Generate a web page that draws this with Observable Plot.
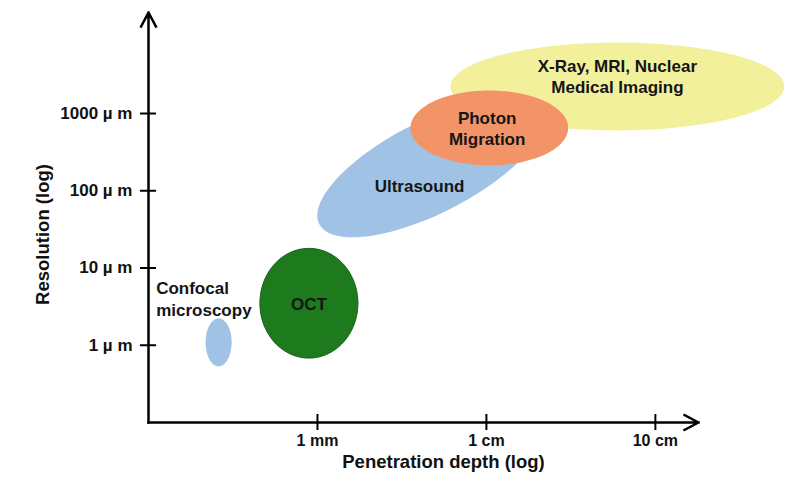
<!DOCTYPE html>
<html><head><meta charset="utf-8">
<script src="https://cdn.jsdelivr.net/npm/d3@7"></script>
<script src="https://cdn.jsdelivr.net/npm/@observablehq/plot@0.6"></script>
<style>body{margin:0;background:#fff} svg{display:block}</style>
</head><body><div id="chart"></div>
<script>
// Axis ticks
const xTicks = [1, 10, 100]; // penetration depth, mm
const xTickLabels = ["1 mm", "1 cm", "10 cm"];
const yTicks = [1, 10, 100, 1000]; // resolution, µm
const yTickLabels = ["1 µ m", "10 µ m", "100 µ m", "1000 µ m"];
const xDomain = [0.1, 180];
const yDomain = [0.1, 20300];

// Imaging techniques (regions in log-log space)
const techniques = ["Confocal microscopy", "OCT", "Ultrasound", "X-Ray, MRI, Nuclear Medical Imaging", "Photon Migration"];
const depthCenter = [0.26, 0.89, 4.67, 59.6, 10.4];   // mm
const resCenter   = [1.09, 3.5, 201, 2240, 651];      // µm
// semi-axes in decades (log10 units)
const majorX = [0.077, 0.29, 0.659, 0.988, 0.467];
const majorY = [0, 0, 0.734, 0, 0];
const minorX = [0, 0, -0.124, 0, 0];
const minorY = [0.31, 0.71, 0.530, 0.569, 0.485];

const labelText  = ["Confocal\nmicroscopy", "OCT", "Ultrasound", "X-Ray, MRI, Nuclear\nMedical Imaging", "Photon\nMigration"];
const labelDepth = [0.111, 0.89, 4.02, 59.6, 10.1];
const labelRes   = [4.06, 3.5, 117, 3065, 651];

// styles
const palette = {
  "Confocal microscopy": "#9fc2e5",
  "OCT": "#1d7b1d",
  "Ultrasound": "#9fc2e5",
  "X-Ray, MRI, Nuclear Medical Imaging": "#f3f09c",
  "Photon Migration": "#f39468"
};
const font = "'Liberation Sans', Arial, Helvetica, sans-serif";

// ellipse outlines built from center + semi-axes
const N = 120;
const regions = techniques.map((name, i) => {
  const cx = Math.log10(depthCenter[i]), cy = Math.log10(resCenter[i]);
  return d3.range(N + 1).map(k => {
    const t = 2 * Math.PI * k / N;
    return {
      name,
      depth: 10 ** (cx + Math.cos(t) * majorX[i] + Math.sin(t) * minorX[i]),
      res: 10 ** (cy + Math.cos(t) * majorY[i] + Math.sin(t) * minorY[i])
    };
  });
});

const labels = labelText.map((text, i) => ({text, depth: labelDepth[i], res: labelRes[i], name: techniques[i]}));

const regionMarks = regions.map((pts, i) =>
  Plot.line(pts, {x: "depth", y: "res", fill: palette[techniques[i]],
    stroke: techniques[i] === "OCT" ? "#165e16" : "none", strokeWidth: 1, curve: "linear"})
);

const chart = Plot.plot({
  width: 800,
  height: 484,
  marginLeft: 148,
  marginRight: 102,
  marginTop: 12,
  marginBottom: 62,
  style: {fontFamily: font, background: "#fff"},
  x: {type: "log", domain: xDomain, axis: null},
  y: {type: "log", domain: yDomain, axis: null},
  marks: [
    ...regionMarks,
    Plot.text(labels.filter(d => d.name !== "Confocal microscopy"), {
      x: "depth", y: "res", text: "text", fontSize: 17, fontWeight: "bold",
      fill: "#151515", lineHeight: 1.24, textAnchor: "middle"
    }),
    Plot.text(labels.filter(d => d.name === "Confocal microscopy"), {
      x: "depth", y: "res", text: "text", fontSize: 17, fontWeight: "bold",
      fill: "#151515", lineHeight: 1.3, textAnchor: "start"
    }),
    // axes with arrows
    Plot.arrow([0], {x1: xDomain[0], y1: yDomain[0], x2: xDomain[1], y2: yDomain[0],
      stroke: "#000", strokeWidth: 2.5, headLength: 9.5, headAngle: 56, strokeLinecap: "square"}),
    Plot.arrow([0], {x1: xDomain[0], y1: yDomain[0], x2: xDomain[0], y2: yDomain[1],
      stroke: "#000", strokeWidth: 2.5, headLength: 9.5, headAngle: 56, strokeLinecap: "square"}),
    // tick marks crossing the axes
    Plot.ruleX(xTicks, {x: d => d, y1: yDomain[0], y2: yDomain[0], insetTop: -8, insetBottom: -8, stroke: "#000", strokeWidth: 2}),
    Plot.ruleY(yTicks, {y: d => d, x1: xDomain[0], x2: xDomain[0], insetLeft: -8, insetRight: -8, stroke: "#000", strokeWidth: 2}),
    // tick labels
    Plot.text(xTicks, {x: d => d, y: yDomain[0], text: (d, i) => xTickLabels[i], dy: 18,
      fontSize: 16, fontWeight: "bold", fill: "#111"}),
    Plot.text(yTicks, {y: d => d, x: xDomain[0], text: (d, i) => yTickLabels[i], dx: -16,
      textAnchor: "end", fontSize: 17, fontWeight: "bold", fill: "#111"}),
    // axis titles
    Plot.text(["Penetration depth (log)"], {frameAnchor: "bottom", textAnchor: "middle", lineAnchor: "middle",
      dx: 20, dy: 40, fontSize: 18.5, fontWeight: "bold", fill: "#111"}),
    Plot.text(["Resolution (log)"], {frameAnchor: "left", textAnchor: "middle", lineAnchor: "middle",
      dx: -105, dy: 17, rotate: -90, fontSize: 18.5, fontWeight: "bold", fill: "#111"})
  ]
});
document.getElementById("chart").append(chart);
</script>
</body></html>
